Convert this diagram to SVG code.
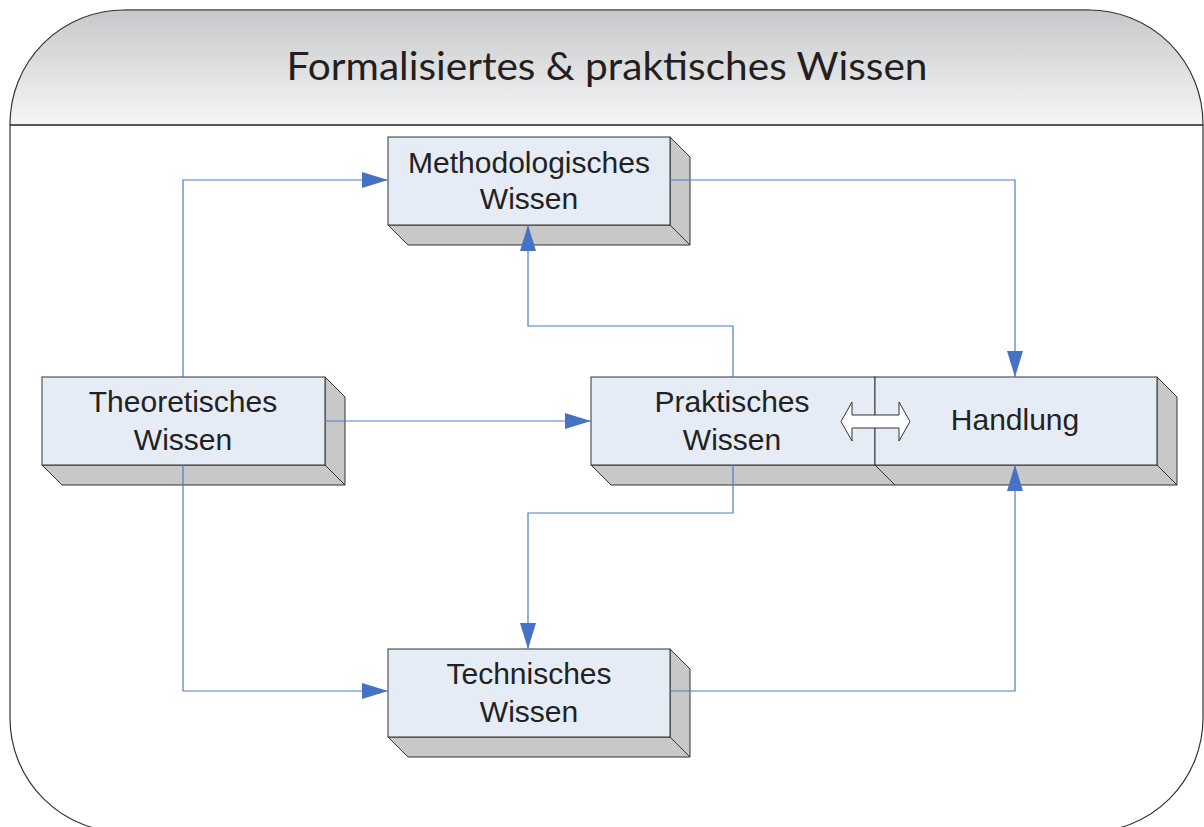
<svg xmlns="http://www.w3.org/2000/svg" width="1204" height="827" viewBox="0 0 1204 827">
<style>
.front{fill:#e6ecf6;stroke:#333;stroke-width:1}
.side{fill:#c8c8c8;stroke:#333;stroke-width:1;stroke-linejoin:round}
.lbl{font-family:"Liberation Sans",Arial,sans-serif;font-size:30px;fill:#222;text-anchor:middle}
.conn{fill:none;stroke:#4a7cc4;stroke-width:1.2}
</style>
<defs>
<linearGradient id="hdr" x1="0" y1="0" x2="0" y2="1">
<stop offset="0" stop-color="#c7c8cb"/>
<stop offset="1" stop-color="#f6f6f6"/>
</linearGradient>
<marker id="arr" viewBox="0 0 26 16" refX="26" refY="8" markerWidth="26" markerHeight="16" markerUnits="userSpaceOnUse" orient="auto">
<path d="M0,0 L26,8 L0,16 z" fill="#4472c4"/>
</marker>
</defs>
<rect x="0" y="0" width="1204" height="827" fill="#fff"/>
<g id="frame">
<path d="M10,125 L10,124 A114,114 0 0 1 124,10 L1089,10 A114,114 0 0 1 1203,124 L1203,125 Z" fill="url(#hdr)"/>
<rect x="10" y="10" width="1193" height="822" rx="114" ry="114" fill="none" stroke="#333" stroke-width="1.2"/>
<line x1="124" y1="10" x2="1089" y2="10" stroke="#777" stroke-width="2"/>
<line x1="10" y1="125" x2="1203" y2="125" stroke="#222" stroke-width="1.5"/>
<text x="607" y="80" font-family="Lato,'Open Sans',sans-serif" font-size="38" fill="#231f20" text-anchor="middle" textLength="641" lengthAdjust="spacingAndGlyphs">Formalisiertes &amp; praktisches Wissen</text>
</g>
<g id="methodologisch">
<polygon class="side" points="388,225 670,225 690,245 408,245"/>
<polygon class="side" points="670,137 690,157 690,245 670,225"/>
<rect class="front" x="388" y="137" width="282" height="88"/>
<text class="lbl" x="529" y="173">Methodologisches</text>
<text class="lbl" x="529" y="209">Wissen</text>
</g>
<g id="theoretisch">
<polygon class="side" points="42,465 325,465 345,485 62,485"/>
<polygon class="side" points="325,377 345,397 345,485 325,465"/>
<rect class="front" x="42" y="377" width="283" height="88"/>
<text class="lbl" x="183" y="412">Theoretisches</text>
<text class="lbl" x="183" y="450">Wissen</text>
</g>
<g id="praktisch">
<polygon class="side" points="591,465 875,465 895,485 611,485"/>
<rect class="front" x="591" y="377" width="284" height="88"/>
<text class="lbl" x="732" y="412">Praktisches</text>
<text class="lbl" x="732" y="450">Wissen</text>
</g>
<g id="handlung">
<polygon class="side" points="875,465 1157,465 1177,485 895,485"/>
<polygon class="side" points="1157,377 1177,397 1177,485 1157,465"/>
<rect class="front" x="875" y="377" width="282" height="88"/>
<text class="lbl" x="1015" y="430">Handlung</text>
</g>
<g id="technisch">
<polygon class="side" points="388,737 670,737 690,757 408,757"/>
<polygon class="side" points="670,649 690,669 690,757 670,737"/>
<rect class="front" x="388" y="649" width="282" height="88"/>
<text class="lbl" x="529" y="684">Technisches</text>
<text class="lbl" x="529" y="722">Wissen</text>
</g>
<g id="connectors">
<path class="conn" d="M183,377 V180 H388" marker-end="url(#arr)"/>
<path class="conn" d="M325,421 H591" marker-end="url(#arr)"/>
<path class="conn" d="M183,465 V691 H388" marker-end="url(#arr)"/>
<path class="conn" d="M733,377 V326 H528 V225" marker-end="url(#arr)"/>
<path class="conn" d="M733,465 V513 H528 V649" marker-end="url(#arr)"/>
<path class="conn" d="M670,180 H1015 V377" marker-end="url(#arr)"/>
<path class="conn" d="M670,691 H1015 V465" marker-end="url(#arr)"/>
<polygon id="doublearrow" points="841,421.5 852,402 852,415 899,415 899,402 910,421.5 899,441 899,428 852,428 852,441" fill="#fff" stroke="#333" stroke-width="1"/>
</g>
</svg>
